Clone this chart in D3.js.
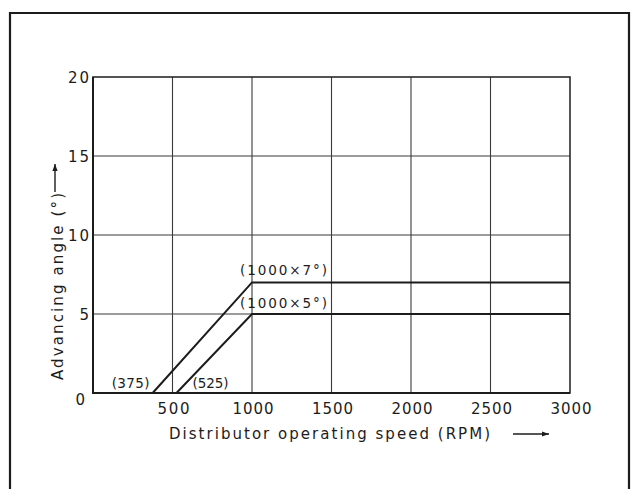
<!DOCTYPE html>
<html>
<head>
<meta charset="utf-8">
<script src="https://cdn.jsdelivr.net/npm/d3@7"></script>
<style>
  html, body { margin: 0; padding: 0; background: #fff; }
  svg { display: block; }
  text { font-family: "DejaVu Sans", Verdana, sans-serif; fill: #1c1c1c; }
</style>
</head>
<body>
<svg id="chart" width="637" height="489"></svg>
<script>
// Centrifugal advance curve: distributor speed vs. advancing angle
const speedTicks = [500, 1000, 1500, 2000, 2500, 3000];
const angleTicks = [0, 5, 10, 15, 20];

// Upper limit curve (starts at 375 rpm, reaches 7° at 1000 rpm)
const upperSpeed = [375, 1000, 3000];
const upperAngle = [0, 7, 7];
// Lower limit curve (starts at 525 rpm, reaches 5° at 1000 rpm)
const lowerSpeed = [525, 1000, 3000];
const lowerAngle = [0, 5, 5];

const startLabels = ["(375)", "(525)"];
const endLabels = ["(1000×7°)", "(1000×5°)"];

const svg = d3.select("#chart");
const ink = "#1c1c1c";

const x = d3.scaleLinear().domain([0, 3000]).range([93, 570]);
const y = d3.scaleLinear().domain([0, 20]).range([393, 77]);

// outer frame
svg.append("path")
  .attr("d", "M10,495 L10,13 L629,13 L629,495")
  .attr("fill", "none").attr("stroke", ink).attr("stroke-width", 2.2);

// grid
const grid = svg.append("g").attr("stroke", "#3a3a3a").attr("stroke-width", 1.1);
grid.selectAll("line.v").data(speedTicks.slice(0, -1)).join("line")
  .attr("x1", d => x(d)).attr("x2", d => x(d))
  .attr("y1", y(0)).attr("y2", y(20));
grid.selectAll("line.h").data(angleTicks.slice(1, -1)).join("line")
  .attr("x1", x(0)).attr("x2", x(3000))
  .attr("y1", d => y(d)).attr("y2", d => y(d));

// plot border: heavier left/bottom axes
svg.append("rect")
  .attr("x", x(0)).attr("y", y(20))
  .attr("width", x(3000) - x(0)).attr("height", y(0) - y(20))
  .attr("fill", "none").attr("stroke", ink).attr("stroke-width", 1.5);
svg.append("path")
  .attr("d", `M${x(0)},${y(20)} L${x(0)},${y(0)} L${x(3000)},${y(0)}`)
  .attr("fill", "none").attr("stroke", ink).attr("stroke-width", 2);

// x axis tick labels
svg.append("g").selectAll("text").data(speedTicks).join("text")
  .attr("x", d => x(d) + 1).attr("y", 414)
  .attr("text-anchor", "middle")
  .attr("font-size", 15)
  .attr("textLength", d => String(d).length === 3 ? 32 : 41)
  .attr("lengthAdjust", "spacing")
  .text(d => d);

// y axis tick labels
svg.append("g").selectAll("text").data(angleTicks).join("text")
  .attr("x", d => d === 0 ? 85 : 89)
  .attr("y", d => d === 0 ? 405 : y(d) + 6)
  .attr("text-anchor", "end")
  .attr("font-size", 15)
  .attr("textLength", d => String(d).length === 1 ? 8 : 21)
  .attr("lengthAdjust", "spacing")
  .text(d => d);

// advance curves
const line = d3.line().x(d => x(d[0])).y(d => y(d[1]));
[[upperSpeed, upperAngle], [lowerSpeed, lowerAngle]].forEach(([s, a]) => {
  svg.append("path")
    .datum(s.map((v, i) => [v, a[i]]))
    .attr("d", line)
    .attr("fill", "none").attr("stroke", ink).attr("stroke-width", 2);
});

// curve annotations
const ann = svg.append("g").attr("font-size", 13.5);
ann.append("text").attr("x", x(upperSpeed[0]) - 3).attr("y", y(0) - 5)
  .attr("text-anchor", "end").attr("textLength", 38).attr("lengthAdjust", "spacing")
  .text(startLabels[0]);
ann.append("text").attr("x", x(lowerSpeed[0]) + 16).attr("y", y(0) - 5)
  .attr("textLength", 36).attr("lengthAdjust", "spacing")
  .text(startLabels[1]);
ann.append("text").attr("x", x(upperSpeed[1]) - 12).attr("y", y(upperAngle[1]) - 7)
  .attr("textLength", 87).attr("lengthAdjust", "spacing")
  .text(endLabels[0]);
ann.append("text").attr("x", x(lowerSpeed[1]) - 12).attr("y", y(lowerAngle[1]) - 6)
  .attr("textLength", 87).attr("lengthAdjust", "spacing")
  .text(endLabels[1]);

// axis titles
svg.append("text")
  .attr("x", 169).attr("y", 439)
  .attr("font-size", 15)
  .attr("textLength", 321).attr("lengthAdjust", "spacing")
  .text("Distributor operating speed (RPM)");

svg.append("text")
  .attr("transform", "translate(63,380) rotate(-90)")
  .attr("font-size", 15)
  .attr("textLength", 187).attr("lengthAdjust", "spacing")
  .text("Advancing angle (°)");

// direction arrows
function arrow(x1, y1, x2, y2) {
  svg.append("line")
    .attr("x1", x1).attr("y1", y1).attr("x2", x2).attr("y2", y2)
    .attr("stroke", ink).attr("stroke-width", 1.4);
  const ang = Math.atan2(y2 - y1, x2 - x1);
  const len = 7, half = 2.6;
  const bx = x2 - len * Math.cos(ang), by = y2 - len * Math.sin(ang);
  const px = -Math.sin(ang) * half, py = Math.cos(ang) * half;
  svg.append("path")
    .attr("d", `M${x2},${y2} L${bx + px},${by + py} L${bx - px},${by - py} Z`)
    .attr("fill", ink);
}
arrow(513, 434, 549, 434);
arrow(55, 192, 55, 164);
</script>
</body>
</html>
